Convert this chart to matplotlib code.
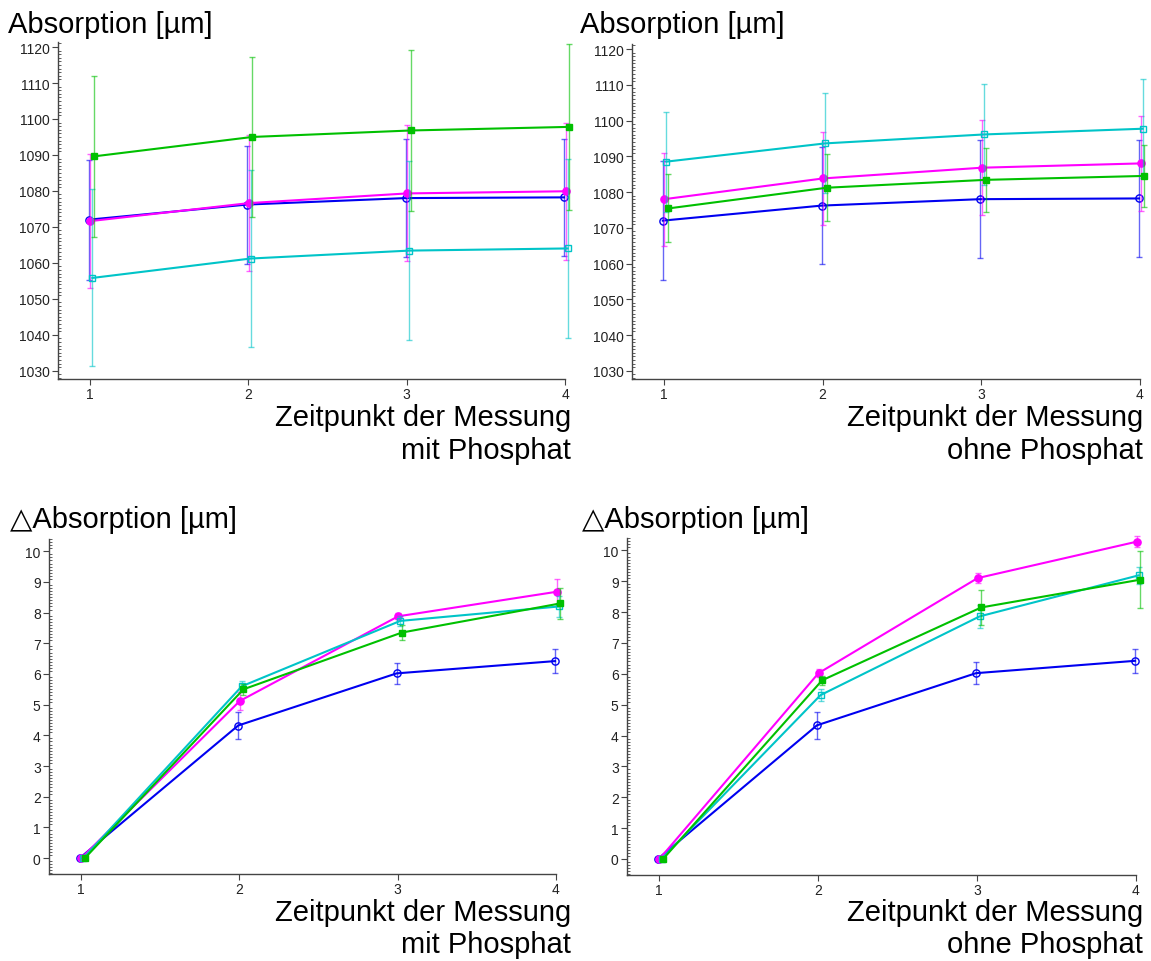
import numpy as np
import matplotlib
matplotlib.use("Agg")
import matplotlib.pyplot as plt
from matplotlib import ticker as tick

plt.rcParams['font.family'] = ['Liberation Sans', 'DejaVu Sans']

# Zeitpunkte der Messung
t = np.array([1, 2, 3, 4])

# Absorption [µm], mit Phosphat
abs_mit = {
    'blau':    [1072.0, 1076.2, 1078.0, 1078.2],
    'magenta': [1071.6, 1076.6, 1079.3, 1079.9],
    'cyan':    [1055.8, 1061.2, 1063.4, 1064.0],
    'gruen':   [1089.6, 1095.0, 1096.8, 1097.8],
}
err_mit = {
    'blau':    [16.7, 16.4, 16.5, 16.3],
    'magenta': [18.7, 18.9, 18.9, 19.1],
    'cyan':    [24.6, 24.7, 24.9, 24.9],
    'gruen':   [22.4, 22.3, 22.5, 23.0],
}

# Absorption [µm], ohne Phosphat
abs_ohne = {
    'blau':    [1072.0, 1076.2, 1078.0, 1078.2],
    'magenta': [1078.0, 1083.8, 1086.8, 1088.0],
    'cyan':    [1088.5, 1093.6, 1096.1, 1097.7],
    'gruen':   [1075.4, 1081.2, 1083.4, 1084.5],
}
err_ohne = {
    'blau':    [16.7, 16.4, 16.5, 16.3],
    'magenta': [13.0, 13.1, 13.3, 13.3],
    'cyan':    [14.0, 14.0, 14.0, 13.8],
    'gruen':   [9.5, 9.3, 9.0, 8.7],
}

# Delta-Absorption [µm], mit Phosphat
d_mit = {
    'blau':    [0.0, 4.32, 6.02, 6.42],
    'magenta': [0.0, 5.12, 7.88, 8.68],
    'cyan':    [0.0, 5.60, 7.73, 8.20],
    'gruen':   [0.0, 5.50, 7.35, 8.30],
}
derr_mit = {
    'blau':    [0.0, 0.44, 0.35, 0.39],
    'magenta': [0.0, 0.29, 0.10, 0.40],
    'cyan':    [0.0, 0.17, 0.15, 0.35],
    'gruen':   [0.0, 0.17, 0.24, 0.50],
}

# Delta-Absorption [µm], ohne Phosphat
d_ohne = {
    'blau':    [0.0, 4.33, 6.02, 6.42],
    'magenta': [0.0, 6.02, 9.10, 10.28],
    'cyan':    [0.0, 5.31, 7.86, 9.19],
    'gruen':   [0.0, 5.79, 8.15, 9.05],
}
derr_ohne = {
    'blau':    [0.0, 0.44, 0.35, 0.39],
    'magenta': [0.0, 0.12, 0.15, 0.17],
    'cyan':    [0.0, 0.20, 0.38, 0.28],
    'gruen':   [0.0, 0.15, 0.56, 0.93],
}

# Stil je Gruppe: Farbe, Marker, gefuellt, x-Versatz
style = {
    'blau':    ('#0000f0', 'o', False, -0.006),
    'magenta': ('#ff00ff', 'o', True, 0.004),
    'cyan':    ('#00c4c8', 's', False, 0.017),
    'gruen':   ('#00c000', 's', True, 0.027),
}
order = ['blau', 'magenta', 'cyan', 'gruen']

W, H = 1151, 962
fig = plt.figure(figsize=(W/100, H/100), dpi=100)

def px_axes(l, t_, r, b):
    return fig.add_axes([l/W, 1-b/H, (r-l)/W, (b-t_)/H])

def panel(ax, data, err, ylim, major):
    for k in order:
        c, m, filled, dx = style[k]
        x = t + dx
        ax.errorbar(x, data[k], yerr=err[k], fmt='none', ecolor=c, alpha=0.6,
                    elinewidth=1.0, capsize=2.5, capthick=1.0, clip_on=False)
        ax.plot(x, data[k], color=c, lw=1.5, marker=m, ms=4.8 if m == 's' else 5.2,
                mfc=c if filled else 'none', mec=c, mew=1.0, clip_on=False)
    ax.set_xlim(0.8, 4.0)
    ax.set_ylim(*ylim)
    ax.set_xticks(t)
    ax.yaxis.set_major_locator(tick.MultipleLocator(major))
    ax.yaxis.set_minor_locator(tick.MultipleLocator(major/10))
    for s in ['top', 'right']:
        ax.spines[s].set_visible(False)
    for s in ['left', 'bottom']:
        ax.spines[s].set_color('#444444')
        ax.spines[s].set_linewidth(1.0)
    ax.tick_params(axis='both', which='major', direction='out', length=4,
                   width=0.8, color='#444444', labelsize=10, labelcolor='#222222', pad=2)
    ax.tick_params(axis='y', which='minor', direction='in', length=2.5,
                   width=0.6, color='#444444')
    ax.tick_params(axis='x', which='minor', bottom=False)

ax1 = px_axes(58, 43, 565, 380)
panel(ax1, abs_mit, err_mit, (1027.7, 1121.4), 10)
ax2 = px_axes(632, 45, 1140, 380)
panel(ax2, abs_ohne, err_ohne, (1027.7, 1121.4), 10)
ax3 = px_axes(49, 540, 556, 875)
panel(ax3, d_mit, derr_mit, (-0.52, 10.4), 1)
ax4 = px_axes(627, 539, 1136, 876)
panel(ax4, d_ohne, derr_ohne, (-0.52, 10.4), 1)

F = 21
def label(x, y, s, ha='left'):
    fig.text(x/W, 1-y/H, s, fontsize=F, ha=ha, va='baseline', color='black')

label(8, 33, 'Absorption [µm]')
label(580, 33, 'Absorption [µm]')
label(10, 528, '\u25b3Absorption [µm]')
label(582, 528, '\u25b3Absorption [µm]')

label(571, 426, 'Zeitpunkt der Messung', ha='right')
label(571, 459, 'mit Phosphat', ha='right')
label(1143, 426, 'Zeitpunkt der Messung', ha='right')
label(1143, 459, 'ohne Phosphat', ha='right')
label(571, 921, 'Zeitpunkt der Messung', ha='right')
label(571, 953, 'mit Phosphat', ha='right')
label(1143, 921, 'Zeitpunkt der Messung', ha='right')
label(1143, 953, 'ohne Phosphat', ha='right')

plt.savefig('out.png', dpi=100)
